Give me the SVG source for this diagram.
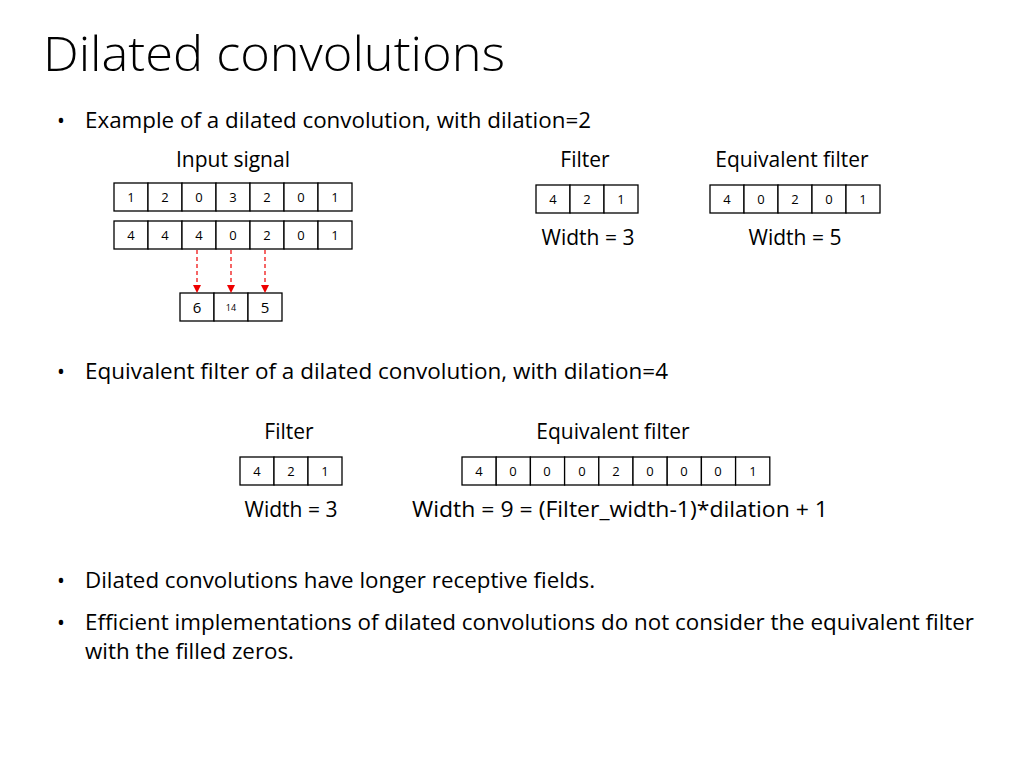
<svg xmlns="http://www.w3.org/2000/svg" width="1024" height="768" viewBox="0 0 1024 768">
<style>
text{font-family:"Open Sans","Liberation Sans",sans-serif;fill:#000}
.t{font-size:48px;font-weight:300}
.b{font-size:21px}
.l{font-size:21px;text-anchor:middle}
.c{font-size:13px;text-anchor:middle}
rect{fill:#fff;stroke:#000;stroke-width:1.3}
.a{stroke:#e00;stroke-width:1.2;stroke-dasharray:4 3;fill:none}
</style>
<defs><marker id="ah" markerWidth="8" markerHeight="8" refX="7" refY="4" orient="auto" markerUnits="userSpaceOnUse"><path d="M0,0 L8,4 L0,8 z" fill="#e00"/></marker></defs>
<rect x="0" y="0" width="1024" height="768" style="stroke:none"/>
<text class="t" x="43" y="71" textLength="462" lengthAdjust="spacingAndGlyphs">Dilated convolutions</text>
<text class="b" x="57" y="128">•</text>
<text class="b" x="85" y="128" textLength="506" lengthAdjust="spacingAndGlyphs">Example of a dilated convolution, with dilation=2</text>
<text class="l" x="233" y="167">Input signal</text>
<text class="l" x="585" y="167">Filter</text>
<text class="l" x="792" y="167">Equivalent filter</text>
<g id="input1">
<rect x="114" y="183" width="34" height="28"/><rect x="148" y="183" width="34" height="28"/><rect x="182" y="183" width="34" height="28"/><rect x="216" y="183" width="34" height="28"/><rect x="250" y="183" width="34" height="28"/><rect x="284" y="183" width="34" height="28"/><rect x="318" y="183" width="34" height="28"/>
<text class="c" x="131" y="202">1</text><text class="c" x="165" y="202">2</text><text class="c" x="199" y="202">0</text><text class="c" x="233" y="202">3</text><text class="c" x="267" y="202">2</text><text class="c" x="301" y="202">0</text><text class="c" x="335" y="202">1</text>
</g>
<g id="input2">
<rect x="114" y="221" width="34" height="28"/><rect x="148" y="221" width="34" height="28"/><rect x="182" y="221" width="34" height="28"/><rect x="216" y="221" width="34" height="28"/><rect x="250" y="221" width="34" height="28"/><rect x="284" y="221" width="34" height="28"/><rect x="318" y="221" width="34" height="28"/>
<text class="c" x="131" y="240">4</text><text class="c" x="165" y="240">4</text><text class="c" x="199" y="240">4</text><text class="c" x="233" y="240">0</text><text class="c" x="267" y="240">2</text><text class="c" x="301" y="240">0</text><text class="c" x="335" y="240">1</text>
</g>
<g id="output">
<rect x="180" y="293" width="34" height="28"/><rect x="214" y="293" width="34" height="28"/><rect x="248" y="293" width="34" height="28"/>
<text class="c" x="197" y="313" style="font-size:15px">6</text><text class="c" x="231" y="311" style="font-size:9px">14</text><text class="c" x="265" y="313" style="font-size:15px">5</text>
</g>
<g id="connectors">
<line class="a" x1="197" y1="250" x2="197" y2="292" marker-end="url(#ah)"/>
<line class="a" x1="231" y1="250" x2="231" y2="292" marker-end="url(#ah)"/>
<line class="a" x1="265" y1="250" x2="265" y2="292" marker-end="url(#ah)"/>
</g>
<g id="filter1">
<rect x="536" y="185" width="34" height="28"/><rect x="570" y="185" width="34" height="28"/><rect x="604" y="185" width="34" height="28"/>
<text class="c" x="553" y="204">4</text><text class="c" x="587" y="204">2</text><text class="c" x="621" y="204">1</text>
</g>
<text class="l" x="588" y="245">Width = 3</text>
<g id="equiv1">
<rect x="710" y="185" width="34" height="28"/><rect x="744" y="185" width="34" height="28"/><rect x="778" y="185" width="34" height="28"/><rect x="812" y="185" width="34" height="28"/><rect x="846" y="185" width="34" height="28"/>
<text class="c" x="727" y="204">4</text><text class="c" x="761" y="204">0</text><text class="c" x="795" y="204">2</text><text class="c" x="829" y="204">0</text><text class="c" x="863" y="204">1</text>
</g>
<text class="l" x="795" y="245">Width = 5</text>
<text class="b" x="57" y="379">•</text>
<text class="b" x="85" y="379" textLength="583" lengthAdjust="spacingAndGlyphs">Equivalent filter of a dilated convolution, with dilation=4</text>
<text class="l" x="289" y="439">Filter</text>
<text class="l" x="613" y="439">Equivalent filter</text>
<g id="filter2">
<rect x="240" y="457" width="34" height="28"/><rect x="274" y="457" width="34" height="28"/><rect x="308" y="457" width="34" height="28"/>
<text class="c" x="257" y="476">4</text><text class="c" x="291" y="476">2</text><text class="c" x="325" y="476">1</text>
</g>
<text class="l" x="291" y="517">Width = 3</text>
<g id="equiv2">
<rect x="462" y="457" width="34.2" height="28"/><rect x="496.2" y="457" width="34.2" height="28"/><rect x="530.4" y="457" width="34.2" height="28"/><rect x="564.6" y="457" width="34.2" height="28"/><rect x="598.8" y="457" width="34.2" height="28"/><rect x="633" y="457" width="34.2" height="28"/><rect x="667.2" y="457" width="34.2" height="28"/><rect x="701.4" y="457" width="34.2" height="28"/><rect x="735.6" y="457" width="34.2" height="28"/>
<text class="c" x="479" y="476">4</text><text class="c" x="513" y="476">0</text><text class="c" x="547" y="476">0</text><text class="c" x="582" y="476">0</text><text class="c" x="616" y="476">2</text><text class="c" x="650" y="476">0</text><text class="c" x="684" y="476">0</text><text class="c" x="718" y="476">0</text><text class="c" x="753" y="476">1</text>
</g>
<text class="b" x="412" y="517" textLength="416" lengthAdjust="spacingAndGlyphs">Width = 9 = (Filter_width-1)*dilation + 1</text>
<text class="b" x="57" y="588">•</text>
<text class="b" x="85" y="588" textLength="510" lengthAdjust="spacingAndGlyphs">Dilated convolutions have longer receptive fields.</text>
<text class="b" x="57" y="630">•</text>
<text class="b" x="85" y="630" textLength="889" lengthAdjust="spacingAndGlyphs">Efficient implementations of dilated convolutions do not consider the equivalent filter</text>
<text class="b" x="85" y="659" textLength="209" lengthAdjust="spacingAndGlyphs">with the filled zeros.</text>
</svg>
